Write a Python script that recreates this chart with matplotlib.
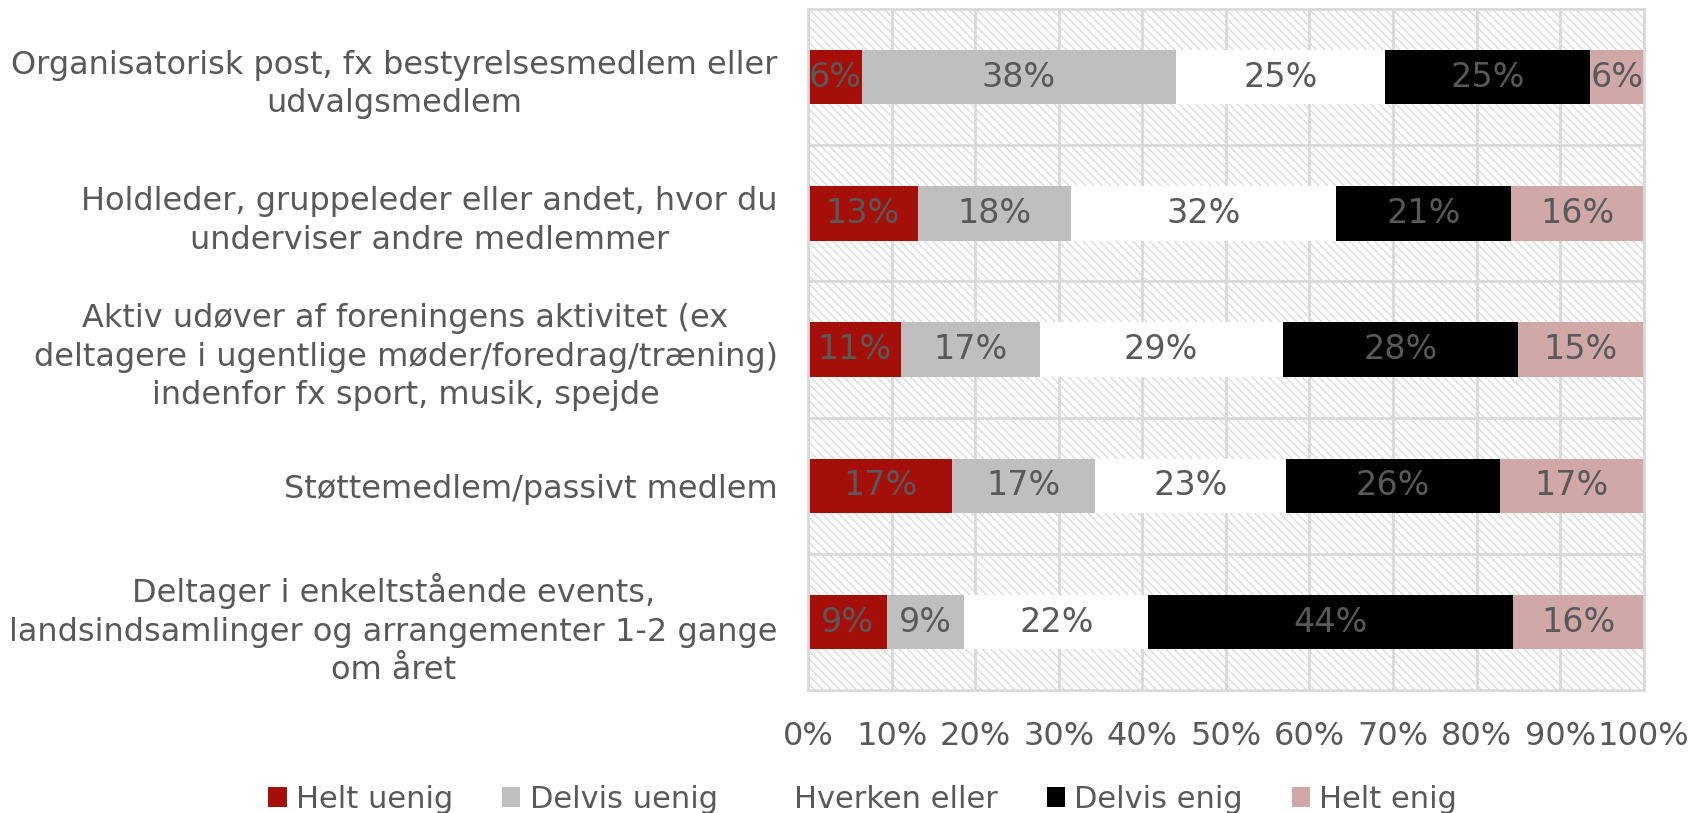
import matplotlib.pyplot as plt
from matplotlib.patches import Rectangle

plt.rcParams['font.family'] = ['DejaVu Sans']
plt.rcParams['hatch.linewidth'] = 0.8

categories = [
    "Organisatorisk post, fx bestyrelsesmedlem eller\nudvalgsmedlem",
    "Holdleder, gruppeleder eller andet, hvor du\nunderviser andre medlemmer",
    "Aktiv udøver af foreningens aktivitet (ex\ndeltagere i ugentlige møder/foredrag/træning)\nindenfor fx sport, musik, spejde",
    "Støttemedlem/passivt medlem",
    "Deltager i enkeltstående events,\nlandsindsamlinger og arrangementer 1-2 gange\nom året",
]
series_names = ["Helt uenig", "Delvis uenig", "Hverken eller", "Delvis enig", "Helt enig"]
helt_uenig = [6.4, 13.1, 11.1, 17.2, 9.4]
delvis_uenig = [37.6, 18.4, 16.6, 17.1, 9.3]
hverken = [25.0, 31.7, 29.1, 22.9, 22.0]
delvis_enig = [24.6, 20.9, 28.2, 25.6, 43.7]
helt_enig = [6.4, 15.9, 15.0, 17.2, 15.6]
series = [helt_uenig, delvis_uenig, hverken, delvis_enig, helt_enig]
colors = ["#a50f0a", "#bfbfbf", "#ffffff", "#000000", "#d0a8a8"]
xticks = [0, 10, 20, 30, 40, 50, 60, 70, 80, 90, 100]

txt = "#595959"
grid = "#d9d9d9"

fig = plt.figure(figsize=(17.05, 8.13), dpi=100)
ax = fig.add_axes([0.474, 0.151, 0.49, 0.838])

# hatched plot area
ax.add_patch(Rectangle((0, 0), 1, 1, transform=ax.transAxes, facecolor="white",
                       edgecolor="#d4d4d4", hatch="\\\\\\\\", linewidth=0, zorder=0))

y = list(range(len(categories)))
left = [0] * len(categories)
for name, vals, c in zip(series_names, series, colors):
    bars = ax.barh(y, vals, left=left, height=0.4, color=c, label=name, zorder=2)
    for b, v in zip(bars, vals):
        ax.text(b.get_x() + b.get_width() / 2, b.get_y() + b.get_height() / 2,
                f"{round(v)}%", ha="center", va="center", color=txt, fontsize=24, zorder=3)
    left = [l + v for l, v in zip(left, vals)]

ax.set_xlim(0, 100)
ax.set_ylim(4.5, -0.5)
ax.set_xticks(xticks)
ax.set_xticklabels([f"{t}%" for t in xticks])
ax.set_yticks(y)
ax.set_yticklabels(categories, multialignment="center", linespacing=1.33)
ax.set_yticks([i + 0.5 for i in range(len(categories) - 1)], minor=True)
ax.tick_params(axis="x", length=0, pad=22, labelsize=23, labelcolor=txt)
ax.tick_params(axis="y", which="both", length=0, pad=22, labelsize=23, labelcolor=txt)

ax.grid(axis="x", color=grid, linewidth=2, zorder=1)
ax.grid(axis="y", which="minor", color=grid, linewidth=2, zorder=1)
ax.set_axisbelow(True)
for s in ax.spines.values():
    s.set_color(grid)
    s.set_linewidth(2)

handles, labels = ax.get_legend_handles_labels()
fig.legend(handles, labels, loc="center", bbox_to_anchor=(0.506, 0.017), ncol=5,
           frameon=False, fontsize=22, labelcolor=txt, handlelength=0.6, handleheight=0.6,
           handletextpad=0.3, columnspacing=1.6)

fig.savefig("out.png", dpi=100)
